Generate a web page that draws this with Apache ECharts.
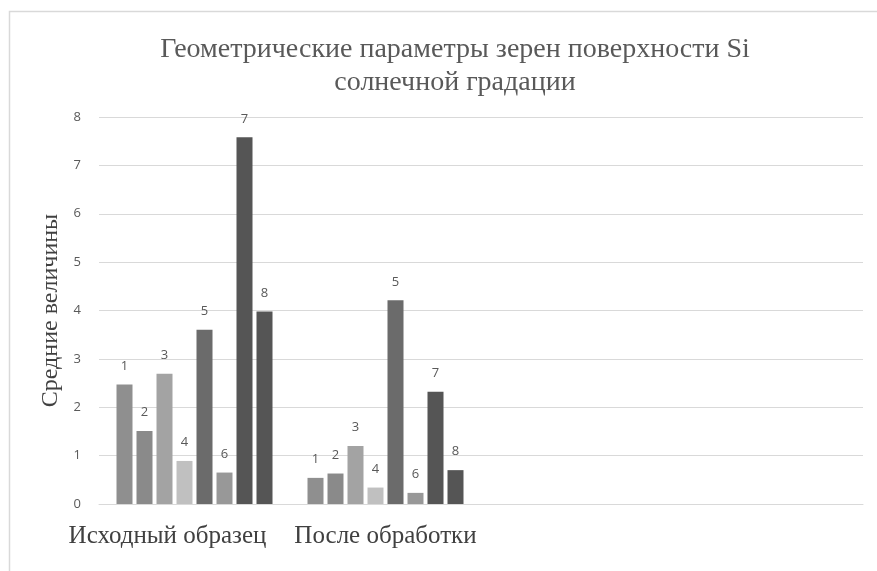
<!DOCTYPE html>
<html>
<head>
<meta charset="utf-8">
<script src="https://cdn.jsdelivr.net/npm/echarts@6/dist/echarts.min.js"></script>
<style>
  html, body { margin: 0; padding: 0; background: #fff; }
  #chart { width: 877px; height: 571px; }
</style>
</head>
<body>
<div id="chart"></div>
<script>
// Categories on the x axis (two trailing empty slots keep the plot width)
const categories = ['Исходный образец', 'После обработки', '', ''];
// Series names, shown as the labels above each bar
const seriesNames = ['1', '2', '3', '4', '5', '6', '7', '8'];
// Values per series: [Исходный образец, После обработки]
const values1 = [2.47, 0.54];
const values2 = [1.51, 0.63];
const values3 = [2.69, 1.20];
const values4 = [0.89, 0.34];
const values5 = [3.60, 4.21];
const values6 = [0.65, 0.23];
const values7 = [7.58, 2.32];
const values8 = [3.98, 0.70];
const seriesValues = [values1, values2, values3, values4, values5, values6, values7, values8];
const seriesColors = ['#8f8f8f', '#8a8a8a', '#a3a3a3', '#c0c0c0', '#6b6b6b', '#989898', '#555555', '#555555'];
// Y axis ticks
const yMin = 0, yMax = 8, yStep = 1;

const chart = echarts.init(document.getElementById('chart'), null, { renderer: 'canvas' });

const series = seriesNames.map((name, i) => ({
  name: name,
  type: 'bar',
  data: seriesValues[i],
  barWidth: 16,
  barGap: '25%',
  itemStyle: { color: seriesColors[i] },
  label: {
    show: true,
    position: 'top',
    distance: 12,
    formatter: '{a}',
    color: '#595959',
    fontFamily: 'Open Sans, sans-serif',
    fontSize: 13
  }
}));

chart.setOption({
  backgroundColor: '#ffffff',
  animation: false,
  graphic: [{
    type: 'rect',
    left: 7, top: 9,
    shape: { width: 900, height: 600 },
    style: { fill: 'none', stroke: '#d9d9d9', lineWidth: 1.5 },
    silent: true
  }],
  title: {
    text: 'Геометрические параметры зерен поверхности Si\nсолнечной градации',
    left: 450,
    textAlign: 'center',
    top: 28,
    textStyle: {
      fontFamily: 'Liberation Serif, serif',
      fontWeight: 'normal',
      fontSize: 28,
      lineHeight: 33,
      color: '#595959'
    }
  },
  grid: { left: 99, right: 14, top: 117, bottom: 67, containLabel: false },
  xAxis: {
    type: 'category',
    data: categories.map((c, i) => i === 0
      ? { value: c, textStyle: { padding: [0, 54, 0, 0] } }
      : c),
    axisLine: { show: true, lineStyle: { color: '#d9d9d9' } },
    axisTick: { show: false },
    axisLabel: {
      interval: 0,
      margin: 20,
      color: '#404040',
      fontFamily: 'Liberation Serif, serif',
      fontSize: 25
    }
  },
  yAxis: {
    type: 'value',
    min: yMin, max: yMax, interval: yStep,
    name: 'Средние величины',
    nameLocation: 'middle',
    nameGap: 36,
    nameRotate: 90,
    nameTextStyle: {
      fontFamily: 'Liberation Serif, serif',
      fontSize: 24,
      color: '#404040'
    },
    axisLine: { show: false },
    axisTick: { show: false },
    axisLabel: {
      margin: 18,
      color: '#595959',
      fontFamily: 'Open Sans, sans-serif',
      fontSize: 13
    },
    splitLine: { lineStyle: { color: '#d9d9d9', width: 1 } }
  },
  series: series
});
</script>
</body>
</html>
